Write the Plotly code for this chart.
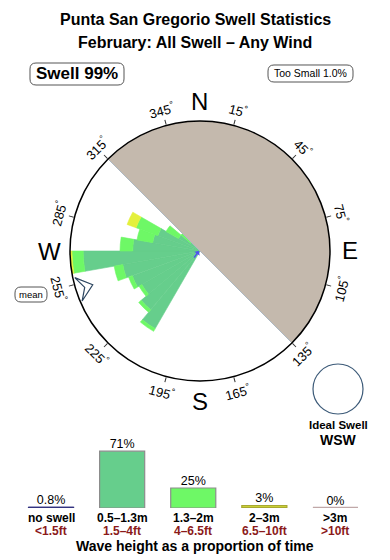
import math
import plotly.graph_objects as go

W, H = 390, 560
FONT = "Liberation Sans, Arial, Helvetica, sans-serif"

# ---------------- data ----------------
directions = [215, 225, 235, 245, 255, 265, 275, 285, 295, 305, 315]
swell_05_13 = [11.2, 9.6, 8.4, 9.0, 9.8, 14.6, 8.4, 6.0, 5.6, 3.1, 1.5]
swell_13_2 = [0.4, 0.4, 0.4, 0.5, 1.1, 1.4, 1.6, 2.0, 2.9, 1.8, 1.6]
swell_2_3 = [0, 0, 0, 0, 0, 0.5, 0, 0, 1.2, 0, 0]
bin_width = 10

mean_dir = 252.5
land_centre, land_span = 45, 180
tick_angles = [15, 45, 75, 105, 135, 165, 195, 225, 255, 285, 315, 345]
compass_labels = ["N", "E", "S", "W"]
compass_angles = [0, 90, 180, 270]

height_cats = ["no swell", "0.5–1.3m", "1.3–2m", "2–3m", ">3m"]
height_ft = ["<1.5ft", "1.5–4ft", "4–6.5ft", "6.5–10ft", ">10ft"]
height_pct = [0.8, 71, 25, 3, 0]

# ---------------- styles / layout constants ----------------
R_MAX = 16.25
CX, CY, RPX = 200, 251, 130
C_DARK = "#66CE8C"
C_LIGHT = "#6EF866"
C_YEL = "#E4F03C"
C_LAND = "#C4B9AD"
bar_fill = ["#333380", C_DARK, C_LIGHT, C_YEL, "#C8AAAA"]
bar_edge = ["#333380", "#8C8C8C", "#8C8C8C", "#A8A832", "#C0A8A8"]


def px(x, y):
    return x / W, 1 - y / H


def polar_px(r_px, bearing):
    b = math.radians(bearing)
    return CX + r_px * math.sin(b), CY - r_px * math.cos(b)


fig = go.Figure()

# rose (stacked)
for vals, col, name in [(swell_05_13, C_DARK, "0.5–1.3m"),
                        (swell_13_2, C_LIGHT, "1.3–2m"),
                        (swell_2_3, C_YEL, "2–3m")]:
    fig.add_trace(go.Barpolar(r=vals, theta=directions, width=[bin_width] * len(directions),
                              marker=dict(color=col, line=dict(width=0.6, color=col)), name=name,
                              showlegend=False, subplot="polar"))

# land shadow sector
fig.add_trace(go.Barpolar(r=[R_MAX], theta=[land_centre], width=[land_span], base=[0],
                          marker=dict(color=C_LAND, line=dict(width=0)),
                          showlegend=False, subplot="polar"))
fig.add_trace(go.Scatterpolar(r=[R_MAX, 0, R_MAX],
                              theta=[land_centre - land_span / 2, 0, land_centre + land_span / 2],
                              mode="lines", line=dict(color="#AEB8C2", width=1),
                              showlegend=False, subplot="polar"))

# mean arrow
mr = R_MAX
fig.add_trace(go.Scatterpolar(
    r=[mr * 0.985, mr * 0.865, mr * 0.985, mr * 0.93, mr * 0.985],
    theta=[mean_dir + 5.5, mean_dir, mean_dir - 5.5, mean_dir, mean_dir + 5.5],
    mode="lines", fill="toself", fillcolor="white",
    line=dict(color="#2C4660", width=1.2), showlegend=False, subplot="polar"))

# ---------------- bottom height bars ----------------
xs = list(range(len(height_cats)))
BW = 0.634
fig.add_trace(go.Bar(x=xs, y=height_pct, width=BW,
                     marker=dict(color=bar_fill, line=dict(color=bar_edge, width=1.2)),
                     showlegend=False, xaxis="x", yaxis="y"))
for i, v in enumerate(height_pct):
    if v < 5:
        fig.add_trace(go.Scatter(x=[i - BW / 2, i + BW / 2], y=[0, 0], mode="lines",
                                 line=dict(color=bar_edge[i], width=2.5),
                                 showlegend=False, xaxis="x", yaxis="y", cliponaxis=False))
fig.add_trace(go.Scatter(x=xs, y=height_pct, mode="text",
                         text=[f"{v:g}%" for v in height_pct], textposition="top center",
                         textfont=dict(family=FONT, size=12.5, color="black"),
                         showlegend=False, xaxis="x", yaxis="y", cliponaxis=False))

annotations = []
shapes = []


def ann(x, y, text, size, bold=False, color="black", angle=0, **kw):
    xp, yp = px(x, y)
    annotations.append(dict(x=xp, y=yp, xref="paper", yref="paper", text=text,
                            showarrow=False, xanchor="center", yanchor="middle",
                            textangle=angle,
                            font=dict(family=FONT, size=size, color=color,
                                      weight="bold" if bold else "normal"), **kw))


def rounded_box(x0, y0, x1, y1, r, color="#555555", width=1):
    def p(x, y):
        a, b = px(x, y)
        return f"{a:.5f},{b:.5f}"
    path = (f"M{p(x0 + r, y0)} L{p(x1 - r, y0)} Q{p(x1, y0)} {p(x1, y0 + r)} "
            f"L{p(x1, y1 - r)} Q{p(x1, y1)} {p(x1 - r, y1)} L{p(x0 + r, y1)} "
            f"Q{p(x0, y1)} {p(x0, y1 - r)} L{p(x0, y0 + r)} Q{p(x0, y0)} {p(x0 + r, y0)} Z")
    shapes.append(dict(type="path", path=path, xref="paper", yref="paper",
                       line=dict(color=color, width=width), fillcolor="white", layer="below"))


# titles
ann(195, 20, "Punta San Gregorio Swell Statistics", 16, bold=True)
ann(195, 43, "February: All Swell – Any Wind", 16, bold=True)

rounded_box(30, 63, 124, 85, 6)
ann(77, 74, "Swell 99%", 17, bold=True)
rounded_box(268, 65, 353, 82, 6)
ann(310.5, 73.5, "Too Small 1.0%", 10.5)
rounded_box(15, 287, 47, 302, 6)
ann(31, 294.5, "mean", 9.5)

# compass letters
for lab, a in zip(compass_labels, compass_angles):
    x, y = polar_px(150, a)
    ann(x, y, lab, 24)

# degree tick labels
for a in tick_angles:
    x, y = polar_px(146, a)
    rot = a if (a < 90 or a > 270) else a - 180
    if rot > 180:
        rot -= 360
    ann(x, y, f"{a}<sup>°</sup>", 13, angle=rot)

# small blue vector at centre
cxp, cyp = px(CX - 1, CY)
annotations.append(dict(x=cxp, y=cyp, xref="paper", yref="paper", text="", showarrow=True,
                        ax=-6, ay=8, arrowhead=1, arrowsize=0.8, arrowwidth=1.4,
                        arrowcolor="#5050F0"))

# ideal swell circle
x0, y0 = px(313, 364)
x1, y1 = px(363, 414)
shapes.append(dict(type="circle", xref="paper", yref="paper", x0=x0, x1=x1, y0=y1, y1=y0,
                   line=dict(color="#3C5A78", width=1.2)))
ann(338, 425, "Ideal Swell", 11.5, bold=True)
ann(338, 439.5, "WSW", 14, bold=True)

# bottom category labels
for i, (c, f) in enumerate(zip(height_cats, height_ft)):
    for text, yy, col in [(c, 518, "black"), (f, 531, "#8B1A1A")]:
        annotations.append(dict(x=i, y=1 - yy / H, xref="x", yref="paper", text=text,
                                showarrow=False, xanchor="center", yanchor="middle",
                                font=dict(family=FONT, size=12, color=col, weight="bold")))
ann(195, 546, "Wave height as a proportion of time", 14, bold=True)

fig.update_layout(
    width=W, height=H, margin=dict(l=0, r=0, t=0, b=0),
    paper_bgcolor="white", plot_bgcolor="white",
    showlegend=False,
    polar=dict(
        domain=dict(x=[(CX - RPX) / W, (CX + RPX) / W], y=[1 - (CY + RPX) / H, 1 - (CY - RPX) / H]),
        bgcolor="white", bargap=0, barmode="stack",
        radialaxis=dict(range=[0, R_MAX], visible=False, showgrid=False),
        angularaxis=dict(direction="clockwise", rotation=90, showgrid=False,
                         showline=True, linecolor="black", linewidth=1.5,
                         tickmode="array", tickvals=tick_angles, ticks="outside",
                         ticklen=5, tickcolor="#333333", tickwidth=1, showticklabels=False),
    ),
    xaxis=dict(domain=[15.5 / W, 371 / W], range=[-0.5, 4.5], visible=False, fixedrange=True),
    yaxis=dict(domain=[1 - 508 / H, 1 - 428 / H], range=[0, 100], visible=False, fixedrange=True),
    annotations=annotations, shapes=shapes,
)

fig.write_html("out.html")
